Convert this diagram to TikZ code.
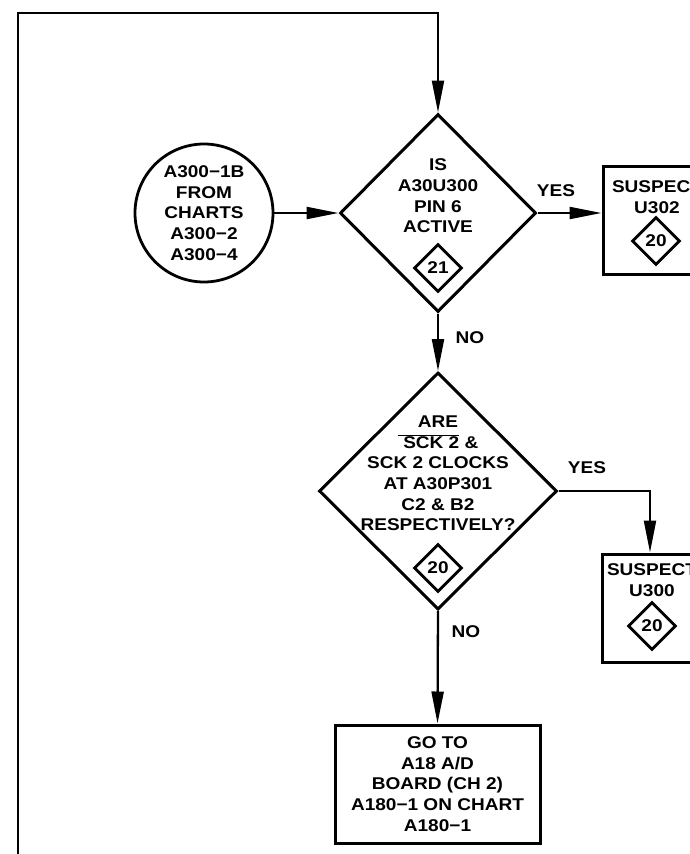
\documentclass[tikz,border=0pt]{standalone}
\usepackage{fontspec}
\setmainfont{Liberation Sans}[FakeStretch=1.12]
\usepackage{tikz}
\usetikzlibrary{positioning,arrows.meta,calc,shapes.geometric}
\tikzset{
  flow/.style={line width=2.3pt, -{Triangle[length=32pt,width=12pt]}},
  txt/.style={font=\bfseries\fontsize{17}{20.6}\selectfont, align=center, inner sep=0pt},
}

\begin{document}
\begin{tikzpicture}[x=1pt, y=-1pt,
  ask/.style={diamond, draw, line width=3pt, inner sep=0pt},
  num/.style={diamond, draw, line width=2.8pt, inner sep=0pt, minimum width=48pt, minimum height=48pt, txt},
  box/.style={draw, line width=3pt, inner sep=0pt},
  entry/.style={circle, draw, line width=2.8pt, inner sep=0pt, minimum size=138pt, txt}]
\useasboundingbox (0,0) rectangle (690,854);
\clip (0,0) rectangle (690,854);
% entry and first question
\node[entry] (circ) at (204,213) {A300−1B\\FROM\\CHARTS\\A300−2\\A300−4};
\node[ask, minimum width=196pt, minimum height=198pt] (d1) at (438,213) {};
\node[txt] (d1txt) at (438,196) {IS\\A30U300\\PIN 6\\ACTIVE};
\node[num] (n21) at (438,268) {21};
% suspect U302
\node[box, minimum width=110pt, minimum height=108pt] (b1) at (658,220) {};
\node[txt] (b1txt) at (657,197) {SUSPECT\\U302};
\node[num] (n20a) at (656,241) {20};
% second question
\node[ask, minimum width=238pt, minimum height=237pt] (d2) at (438,491) {};
\node[txt] (d2txt) at (438,473.5) {ARE\\$\overline{\mbox{\,\,SCK 2}}$ \&\\SCK 2 CLOCKS\\AT A30P301\\C2 \& B2\\RESPECTIVELY?};
\node[num] (n20b) at (438,568) {20};
% suspect U300
\node[box, minimum width=96pt, minimum height=108pt] (b2) at (650,608) {};
\node[txt] (b2txt) at (652,580) {SUSPECT\\U300};
\node[num] (n20c) at (652,626) {20};
% exit box
\node[box, txt, minimum width=205pt, minimum height=118pt] (b3) at (437.5,784) {GO TO\\A18 A/D\\BOARD (CH 2)\\A180−1 ON CHART\\A180−1};
% branch labels
\node[txt] (yesA) at (556,191) {YES};
\node[txt] (noA) at (470,338) {NO};
\node[txt] (yesB) at (587,468) {YES};
\node[txt] (noB) at (466,632) {NO};
% connectors
\coordinate (loopin) at (18,870);
\coordinate (loopup) at (18,13);
\draw[flow] (loopin) -- (loopup) -| (d1.north);
\draw[flow] (circ) -- (d1.west);
\draw[flow] (d1.east) -- (d1.east -| b1.west);
\draw[flow] (d1.south) -- (d2.north);
\draw[flow] (d2.east) -| (b2.north);
\draw[flow] (d2.south) -- (b3.north);
\end{tikzpicture}
\end{document}
